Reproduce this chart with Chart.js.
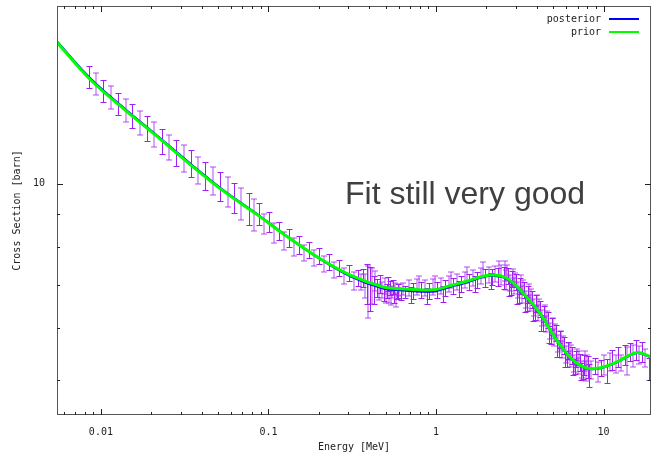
<!DOCTYPE html>
<html lang="en">
<head>
  <meta charset="UTF-8">
  <title>Cross Section fit</title>
  <script src="https://cdn.jsdelivr.net/npm/chart.js"></script>
  <style>
    body { margin: 0; background: #fff; }
    #wrap { position: relative; width: 652px; height: 457px; }
    #note {
      position: absolute; left: 345px; top: 177px;
      font-family: "Liberation Sans", Arial, sans-serif; font-size: 32px; line-height: 32px;
      color: #404040; white-space: nowrap;
    }
  </style>
</head>
<body>
  <div id="wrap">
    <canvas id="xsChart" width="652" height="457"></canvas>
    <div id="note">Fit still very good</div>
  </div>

  <script>
    // evaluated curves (MeV, barn)
    const curveEnergy = [0.00547, 0.0087, 0.0139, 0.0218, 0.0343, 0.0547, 0.086, 0.123, 0.196, 0.308, 0.484, 0.61, 0.96, 1.21, 1.49, 2.10, 2.65, 3.29, 4.16, 5.25, 6.54, 7.92, 9.46, 11.95, 15.7, 19.2];
    const priorXs = [16.5, 14.45, 13.0, 11.81, 10.70, 9.72, 8.96, 8.37, 7.72, 7.24, 6.94, 6.90, 6.87, 6.97, 7.07, 7.24, 7.16, 6.80, 6.33, 5.75, 5.36, 5.21, 5.21, 5.32, 5.50, 5.42];
    const posteriorXs = [16.56, 14.52, 13.05, 11.85, 10.74, 9.75, 8.98, 8.38, 7.71, 7.21, 6.90, 6.86, 6.83, 6.94, 7.04, 7.22, 7.14, 6.79, 6.32, 5.74, 5.35, 5.20, 5.20, 5.31, 5.49, 5.41];

    // measurements with uncertainties
    const dataEnergy = [
      0.00845, 0.00938, 0.01028, 0.01142, 0.01262, 0.01403, 0.01529, 0.0170, 0.01878, 0.02088, 0.02317, 0.0254, 0.02807, 0.03119, 0.03447, 0.03779, 0.04176, 0.04642, 0.0516, 0.05702, 0.06247, 0.06842, 0.07675, 0.08221,
      0.0884, 0.0947, 0.1014, 0.1086, 0.1163, 0.1245, 0.1334, 0.1428, 0.1529, 0.1638, 0.1754, 0.1879, 0.2012, 0.2154, 0.2307, 0.2471, 0.2646, 0.2834, 0.3034, 0.3250, 0.3434,
      0.3578, 0.3677, 0.3780, 0.3885, 0.3938, 0.4047, 0.4159, 0.4276, 0.4335, 0.4456, 0.4579, 0.4642, 0.4771, 0.4903, 0.4971, 0.5109, 0.5251, 0.5323, 0.5472, 0.5623, 0.5702, 0.5861, 0.6024, 0.6190, 0.6362, 0.6539,
      0.6907, 0.7297, 0.7707, 0.8141, 0.8601, 0.9085, 0.9597, 1.014, 1.071, 1.131, 1.195, 1.262, 1.334, 1.409, 1.488, 1.572, 1.660, 1.754, 1.853, 1.957, 2.068, 2.154, 2.245, 2.339, 2.437, 2.540,
      2.610, 2.683, 2.757, 2.834, 2.912, 2.993, 3.076, 3.162, 3.250, 3.340, 3.433, 3.528, 3.626, 3.728, 3.831, 3.938, 4.047, 4.160, 4.276, 4.395, 4.517, 4.642, 4.771, 4.903, 5.040, 5.180, 5.324, 5.472, 5.623, 5.780, 5.940, 6.105, 6.275, 6.449, 6.628, 6.812, 7.001, 7.196, 7.396, 7.601, 7.812, 8.029,
      8.366, 8.842, 9.210, 9.597, 10.0, 10.42, 10.86, 11.31, 11.79, 12.28, 12.80, 13.34, 13.90, 14.48, 15.09, 15.72, 16.38, 17.07, 17.78, 18.78,
      0.5040, 0.5180, 0.5397, 0.5546, 0.5780, 0.5941,
      2.575, 2.719, 2.873, 3.034, 3.206, 3.387, 3.578, 3.780, 3.992, 4.217, 4.455, 4.706, 4.971, 5.251, 5.546, 5.861, 6.190, 6.539, 6.907, 7.297, 7.707, 8.141,
      2.646, 2.795, 2.953, 3.119, 3.295, 3.481, 3.677, 3.885, 4.104, 4.335, 4.579, 4.837, 5.109, 5.397, 5.702, 6.024, 6.362, 6.721, 7.100, 7.499, 7.922,
      0.7097, 0.7922, 0.8841, 0.9864, 1.101, 1.228, 1.370, 1.529, 1.706, 1.905, 2.125, 2.371
    ];
    const dataXs = [
      14.62, 14.26, 13.93, 13.58, 13.29, 13.00, 12.71, 12.41, 12.17, 11.93, 11.65, 11.38, 11.16, 10.95, 10.76, 10.50, 10.29, 10.10, 9.92, 9.73, 9.53, 9.34, 9.15, 8.96,
      8.99, 8.68, 8.74, 8.41, 8.47, 8.17, 8.26, 8.00, 8.06, 7.83, 7.92, 7.69, 7.75, 7.53, 7.59, 7.37, 7.43, 7.22, 7.30, 7.09, 7.17,
      7.07, 7.17, 6.97, 7.02, 6.85, 6.92, 6.99, 6.87, 7.09, 6.92, 6.82, 7.02, 6.87, 6.77, 6.97, 6.85, 6.75, 6.92, 6.82, 6.73, 6.89, 6.80, 6.87, 6.77, 6.89, 6.82,
      6.92, 6.85, 6.94, 6.87, 6.92, 6.85, 6.94, 6.87, 6.97, 6.92, 7.02, 6.97, 7.07, 7.02, 7.12, 7.07, 7.17, 7.12, 7.22, 7.17, 7.24, 7.19, 7.27, 7.19, 7.24, 7.17,
      7.12, 7.22, 7.04, 7.14, 6.97, 7.07, 6.87, 6.97, 6.77, 6.87, 6.65, 6.77, 6.56, 6.65, 6.45, 6.54, 6.33, 6.42, 6.22, 6.31, 6.09, 6.18, 5.94, 6.03, 5.81, 5.90, 5.69, 5.77, 5.57, 5.65, 5.47, 5.55, 5.38, 5.45, 5.30, 5.38, 5.25, 5.32, 5.19, 5.27, 5.16, 5.23,
      5.17, 5.25, 5.14, 5.21, 5.27, 5.16, 5.32, 5.36, 5.29, 5.42, 5.30, 5.45, 5.34, 5.51, 5.44, 5.55, 5.45, 5.51, 5.40, 5.19,
      6.73, 7.02, 6.68, 6.94, 6.63, 6.85,
      7.35, 6.92, 7.19, 6.73, 7.02, 6.54, 6.80, 6.33, 6.56, 6.11, 6.33, 5.86, 6.05, 5.59, 5.77, 5.38, 5.53, 5.23, 5.42, 5.14, 5.34, 5.08,
      7.32, 6.92, 7.12, 6.73, 6.94, 6.54, 6.73, 6.33, 6.49, 6.09, 6.22, 5.81, 5.94, 5.55, 5.69, 5.36, 5.51, 5.23, 5.40, 5.14, 5.32,
      6.75, 7.02, 6.73, 7.02, 6.77, 7.12, 6.89, 7.24, 7.02, 7.37, 7.09, 7.40
    ];
    const dataErr = [
      0.569, 0.555, 0.542, 0.553, 0.517, 0.529, 0.540, 0.527, 0.539, 0.528, 0.516, 0.504, 0.514, 0.523, 0.514, 0.502, 0.510, 0.501, 0.509, 0.517, 0.506, 0.529, 0.518, 0.507,
      0.350, 0.307, 0.309, 0.298, 0.270, 0.260, 0.263, 0.255, 0.257, 0.222, 0.224, 0.218, 0.219, 0.213, 0.215, 0.209, 0.210, 0.204, 0.207, 0.226, 0.203,
      0.200, 0.228, 0.296, 0.497, 0.630, 0.539, 0.445, 0.340, 0.251, 0.220, 0.193, 0.224, 0.195, 0.168, 0.197, 0.170, 0.191, 0.171, 0.145, 0.167, 0.146, 0.144, 0.146, 0.144, 0.146, 0.145,
      0.196, 0.194, 0.196, 0.194, 0.196, 0.194, 0.196, 0.194, 0.197, 0.196, 0.199, 0.197, 0.200, 0.199, 0.201, 0.200, 0.203, 0.201, 0.204, 0.228, 0.205, 0.204, 0.206, 0.229, 0.256, 0.279,
      0.246, 0.214, 0.209, 0.211, 0.207, 0.210, 0.204, 0.207, 0.202, 0.204, 0.197, 0.202, 0.195, 0.197, 0.192, 0.195, 0.188, 0.190, 0.185, 0.188, 0.181, 0.183, 0.176, 0.179, 0.172, 0.175, 0.169, 0.171, 0.165, 0.168, 0.162, 0.165, 0.160, 0.162, 0.157, 0.160, 0.155, 0.158, 0.154, 0.183, 0.179, 0.207,
      0.165, 0.149, 0.182, 0.148, 0.187, 0.219, 0.169, 0.190, 0.169, 0.192, 0.150, 0.193, 0.265, 0.176, 0.212, 0.197, 0.174, 0.195, 0.172, 0.202,
      0.167, 0.174, 0.166, 0.172, 0.164, 0.170,
      0.255, 0.206, 0.214, 0.200, 0.209, 0.195, 0.202, 0.188, 0.195, 0.182, 0.188, 0.174, 0.179, 0.167, 0.172, 0.160, 0.164, 0.155, 0.161, 0.153, 0.185, 0.202,
      0.182, 0.172, 0.177, 0.167, 0.172, 0.162, 0.167, 0.157, 0.161, 0.151, 0.154, 0.144, 0.147, 0.138, 0.141, 0.133, 0.137, 0.130, 0.134, 0.127, 0.132,
      0.191, 0.199, 0.190, 0.199, 0.192, 0.201, 0.195, 0.205, 0.199, 0.209, 0.201, 0.209
    ];

    // axis ticks
    const xTicks = [0.006, 0.007, 0.008, 0.009, 0.01, 0.02, 0.03, 0.04, 0.05, 0.06, 0.07, 0.08, 0.09, 0.1, 0.2, 0.3, 0.4, 0.5, 0.6, 0.7, 0.8, 0.9, 1, 2, 3, 4, 5, 6, 7, 8, 9, 10];
    const xLabelAt = [0.01, 0.1, 1, 10];
    const xTickLabels = ['0.01', '0.1', '1', '10'];
    const yTicks = [5, 6, 7, 8, 9, 10];
    const yLabelAt = [10];
    const yTickLabels = ['10'];

    const monoFont = { family: 'DejaVu Sans Mono', size: 10 };
    const inkColor = '#222';
    const barColor = 'rgb(160,32,240)';

    function pairs(xs, ys) {
      return xs.map((x, i) => ({ x: x, y: ys[i] }));
    }

    function noPadding(s) {
      s.paddingTop = 0;
      s.paddingBottom = 0;
      s.paddingLeft = 0;
      s.paddingRight = 0;
    }

    // vertical error bars with caps, under the curves
    const errorBars = {
      id: 'errorBars',
      beforeDatasetsDraw(chart) {
        const { ctx, chartArea: a, scales: { x, y } } = chart;
        ctx.save();
        ctx.beginPath();
        ctx.rect(a.left, a.top, a.width, a.height);
        ctx.clip();
        ctx.lineWidth = 1;
        ctx.strokeStyle = barColor;
        dataEnergy.forEach((e, i) => {
          // every other bar sits between pixels, like the softer bars of the original
          const shift = i % 2 ? 0 : 0.5;
          const px = Math.round(x.getPixelForValue(e)) + shift;
          const top = Math.round(y.getPixelForValue(dataXs[i] + dataErr[i])) + shift;
          const bot = Math.round(y.getPixelForValue(dataXs[i] - dataErr[i])) + shift;
          ctx.globalAlpha = i % 2 ? 0.8 : 1;
          ctx.beginPath();
          ctx.moveTo(px, top); ctx.lineTo(px, bot);
          ctx.moveTo(px - 3, top); ctx.lineTo(px + 3, top);
          ctx.moveTo(px - 3, bot); ctx.lineTo(px + 3, bot);
          ctx.stroke();
        });
        ctx.restore();
      }
    };

    // gnuplot style frame, inward ticks on all sides, legend in the corner
    const frameTicks = {
      id: 'frameTicks',
      afterDraw(chart) {
        const { ctx, chartArea: a, scales: { x, y } } = chart;
        ctx.save();
        ctx.lineWidth = 1;
        ctx.strokeStyle = '#555';
        ctx.strokeRect(a.left + 0.5, a.top + 0.5, a.width - 1, a.height - 1);

        ctx.strokeStyle = inkColor;
        ctx.beginPath();
        xTicks.forEach(v => {
          const px = Math.round(x.getPixelForValue(v)) + 0.5;
          const len = xLabelAt.includes(v) ? 6 : 3;
          ctx.moveTo(px, a.bottom); ctx.lineTo(px, a.bottom - len);
          ctx.moveTo(px, a.top); ctx.lineTo(px, a.top + len);
        });
        yTicks.forEach(v => {
          const py = Math.round(y.getPixelForValue(v)) + 0.5;
          const len = yLabelAt.includes(v) ? 6 : 3;
          ctx.moveTo(a.left, py); ctx.lineTo(a.left + len, py);
          ctx.moveTo(a.right, py); ctx.lineTo(a.right - len, py);
        });
        ctx.stroke();

        const items = chart.data.datasets.filter(d => d.showLine);
        ctx.font = '10px "DejaVu Sans Mono"';
        ctx.textAlign = 'right';
        ctx.textBaseline = 'middle';
        items.forEach((d, i) => {
          const ly = a.top + 13 + i * 13;
          ctx.fillStyle = inkColor;
          ctx.fillText(d.label, a.right - 50, ly);
          ctx.strokeStyle = d.borderColor;
          ctx.lineWidth = 2;
          ctx.beginPath();
          ctx.moveTo(a.right - 42, ly);
          ctx.lineTo(a.right - 12, ly);
          ctx.stroke();
        });
        ctx.restore();
      }
    };

    new Chart(document.getElementById('xsChart'), {
      type: 'scatter',
      data: {
        datasets: [
          {
            label: 'posterior',
            data: pairs(curveEnergy, posteriorXs),
            showLine: true,
            borderColor: '#0000ff',
            borderWidth: 2,
            pointRadius: 0,
            tension: 0.35,
            order: 2
          },
          {
            label: 'prior',
            data: pairs(curveEnergy, priorXs),
            showLine: true,
            borderColor: '#00ff00',
            borderWidth: 3,
            pointRadius: 0,
            tension: 0.35,
            order: 1
          },
          {
            label: 'data',
            data: pairs(dataEnergy, dataXs),
            showLine: false,
            pointRadius: 0,
            order: 3
          }
        ]
      },
      options: {
        responsive: false,
        animation: false,
        events: [],
        layout: { padding: { top: 6, right: 1, left: 0, bottom: 0 } },
        plugins: { legend: { display: false }, tooltip: { enabled: false } },
        scales: {
          x: {
            type: 'logarithmic',
            min: 0.00547,
            max: 19.2,
            grid: { display: false, drawTicks: false },
            border: { display: false },
            afterBuildTicks: s => { s.ticks = xTicks.map(v => ({ value: v })); },
            afterFit: s => { s.height = 42; noPadding(s); },
            ticks: {
              autoSkip: false,
              maxRotation: 0,
              padding: 11,
              font: monoFont,
              color: inkColor,
              callback: v => {
                const k = xLabelAt.indexOf(v);
                return k < 0 ? '' : xTickLabels[k];
              }
            },
            title: { display: true, text: 'Energy [MeV]', font: monoFont, color: inkColor, padding: { top: 0, bottom: 4 } }
          },
          y: {
            type: 'logarithmic',
            min: 4.41,
            max: 18.78,
            grid: { display: false, drawTicks: false },
            border: { display: false },
            afterBuildTicks: s => { s.ticks = yTicks.map(v => ({ value: v })); },
            afterFit: s => { s.width = 57; noPadding(s); },
            ticks: {
              autoSkip: false,
              padding: 12,
              font: monoFont,
              color: inkColor,
              callback: v => {
                const k = yLabelAt.indexOf(v);
                return k < 0 ? '' : yTickLabels[k];
              }
            },
            title: { display: true, text: 'Cross Section [barn]', font: monoFont, color: inkColor, padding: { top: 11, bottom: 0 } }
          }
        }
      },
      plugins: [errorBars, frameTicks]
    });
  </script>
</body>
</html>
